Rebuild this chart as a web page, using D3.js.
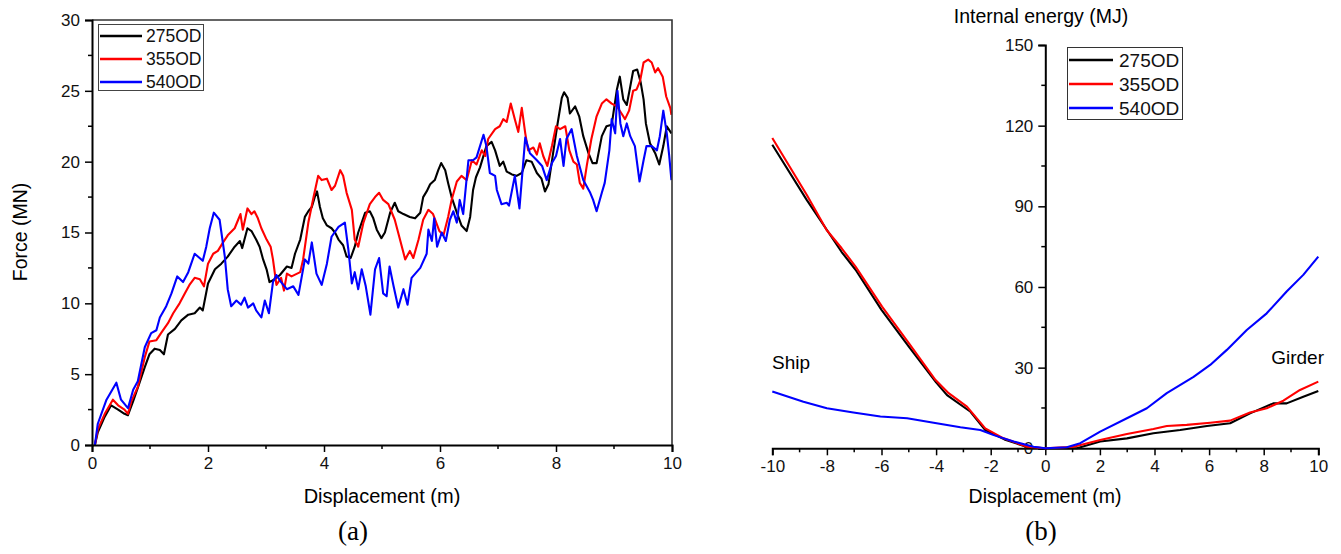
<!DOCTYPE html>
<html><head><meta charset="utf-8">
<script src="https://cdn.jsdelivr.net/npm/d3@7"></script>
<style>body{margin:0;background:#fff}svg{display:block}text{font-family:"Liberation Sans",Arial,sans-serif}</style>
</head><body>
<svg id="c" width="1341" height="554"></svg>
<script>
// ---------- DATA ----------
const seriesNames = ["275OD", "355OD", "540OD"];
const seriesColors = ["#000000", "#ff0000", "#0000ff"];

// (a) Force (MN) vs displacement (m)
const force275 = [[0.05,0],[0.10,0.9],[0.22,2.0],[0.33,2.8],[0.45,2.5],[0.56,2.2],[0.62,2.1],[0.71,3.1],[0.82,4.4],[0.91,5.5],[0.99,6.4],[1.08,6.8],[1.17,6.7],[1.24,6.4],[1.31,7.8],[1.43,8.2],[1.54,8.8],[1.66,9.2],[1.77,9.3],[1.86,9.7],[1.91,9.5],[2.00,11.4],[2.12,12.4],[2.23,12.8],[2.34,13.3],[2.46,14.0],[2.55,14.4],[2.59,13.9],[2.68,15.3],[2.75,15.1],[2.83,14.5],[2.89,14.0],[2.95,13.1],[3.01,12.4],[3.06,11.5],[3.15,11.7],[3.24,12.0],[3.36,12.6],[3.44,12.5],[3.50,13.5],[3.59,14.5],[3.67,16.1],[3.73,16.5],[3.79,16.8],[3.84,17.5],[3.88,17.9],[3.93,16.8],[3.98,16.0],[4.05,15.5],[4.13,15.3],[4.19,15.0],[4.25,14.5],[4.33,14.1],[4.39,13.3],[4.46,13.2],[4.53,14.0],[4.59,15.0],[4.65,15.7],[4.71,16.4],[4.79,16.5],[4.85,16.0],[4.91,15.2],[4.99,14.6],[5.05,15.0],[5.14,16.4],[5.22,17.1],[5.28,16.5],[5.37,16.3],[5.48,16.1],[5.57,16.0],[5.66,16.4],[5.71,17.5],[5.77,17.9],[5.83,18.4],[5.91,18.7],[5.97,19.4],[6.02,19.9],[6.09,19.4],[6.14,18.5],[6.20,17.5],[6.29,16.4],[6.37,15.5],[6.46,15.1],[6.52,16.1],[6.57,18.0],[6.62,18.9],[6.69,19.6],[6.80,21.1],[6.89,21.4],[6.95,20.8],[7.03,19.7],[7.09,20.0],[7.15,19.3],[7.24,19.1],[7.32,19.0],[7.41,19.2],[7.49,20.1],[7.58,20.0],[7.67,19.2],[7.75,18.8],[7.81,17.9],[7.87,18.4],[7.95,20.6],[8.02,22.5],[8.10,24.5],[8.14,24.9],[8.20,24.5],[8.24,23.4],[8.33,23.9],[8.40,23.2],[8.47,21.8],[8.56,20.6],[8.63,19.9],[8.70,19.9],[8.79,21.8],[8.87,22.5],[8.96,22.6],[9.05,25.1],[9.10,26.0],[9.16,24.4],[9.22,24.0],[9.28,25.3],[9.33,26.4],[9.40,26.5],[9.46,25.6],[9.51,24.4],[9.55,22.7],[9.62,21.3],[9.71,20.6],[9.78,19.8],[9.85,21.1],[9.91,22.5],[9.99,22.0]];
const force355 = [[0.05,0],[0.10,1.1],[0.22,2.2],[0.36,3.2],[0.45,2.8],[0.56,2.5],[0.62,2.2],[0.68,3.1],[0.79,4.1],[0.91,6.2],[0.99,7.3],[1.11,7.4],[1.19,7.9],[1.31,8.6],[1.40,9.3],[1.51,10.0],[1.60,10.7],[1.68,11.3],[1.77,11.8],[1.86,11.7],[1.93,11.2],[2.00,12.8],[2.09,13.5],[2.17,13.7],[2.26,14.3],[2.34,14.8],[2.46,15.3],[2.52,15.9],[2.56,16.3],[2.60,15.2],[2.68,16.7],[2.75,16.3],[2.80,16.5],[2.86,16.0],[2.92,15.3],[3.01,14.5],[3.08,14.0],[3.12,13.1],[3.18,11.3],[3.26,11.8],[3.31,10.9],[3.36,12.1],[3.44,11.9],[3.59,12.2],[3.64,13.1],[3.73,15.7],[3.82,17.5],[3.90,19.0],[3.96,18.7],[4.05,18.8],[4.13,18.0],[4.19,18.3],[4.28,19.4],[4.33,19.0],[4.39,17.8],[4.48,16.6],[4.53,14.5],[4.59,14.0],[4.68,15.7],[4.79,17.0],[4.88,17.5],[4.95,17.8],[5.02,17.3],[5.11,17.0],[5.22,15.9],[5.31,14.5],[5.40,13.1],[5.48,13.7],[5.54,13.2],[5.63,14.5],[5.71,15.9],[5.80,16.6],[5.88,16.3],[5.99,15.1],[6.06,14.8],[6.14,16.1],[6.20,17.3],[6.29,18.6],[6.37,19.0],[6.46,18.7],[6.55,20.1],[6.63,19.8],[6.72,20.8],[6.78,20.4],[6.83,21.6],[6.95,22.3],[7.03,22.5],[7.09,23.0],[7.15,22.8],[7.22,24.1],[7.29,23.0],[7.35,22.1],[7.41,23.8],[7.47,22.0],[7.52,20.8],[7.61,21.0],[7.67,20.5],[7.72,21.3],[7.78,20.4],[7.85,19.7],[7.93,21.1],[8.00,22.5],[8.07,22.3],[8.16,22.5],[8.23,20.8],[8.30,20.0],[8.36,19.8],[8.41,18.5],[8.47,18.1],[8.53,19.7],[8.61,21.6],[8.70,23.2],[8.79,24.1],[8.87,24.4],[8.96,24.1],[9.05,23.9],[9.13,23.4],[9.19,23.0],[9.26,23.6],[9.33,25.0],[9.39,25.1],[9.45,25.7],[9.51,27.0],[9.59,27.2],[9.65,27.0],[9.71,26.3],[9.76,26.6],[9.84,26.0],[9.90,24.6],[9.97,23.8],[9.99,23.3]];
const force540 = [[0.05,0],[0.10,1.5],[0.25,3.2],[0.42,4.4],[0.50,3.2],[0.62,2.6],[0.71,3.9],[0.79,4.5],[0.91,6.9],[1.02,7.9],[1.11,8.1],[1.17,9.0],[1.28,9.8],[1.37,10.7],[1.47,11.9],[1.57,11.5],[1.66,12.2],[1.77,13.5],[1.91,13.0],[1.97,14.0],[2.03,15.3],[2.10,16.4],[2.20,15.9],[2.29,13.3],[2.34,11.0],[2.40,9.8],[2.49,10.2],[2.57,9.9],[2.63,10.4],[2.69,9.7],[2.78,10.0],[2.83,9.5],[2.92,9.0],[2.98,10.2],[3.05,9.3],[3.12,11.5],[3.18,12.0],[3.26,11.5],[3.36,11.0],[3.47,11.2],[3.56,10.6],[3.67,13.1],[3.73,12.8],[3.79,14.3],[3.87,12.1],[3.96,11.3],[4.05,12.8],[4.13,14.7],[4.25,15.4],[4.36,15.7],[4.42,13.8],[4.48,11.4],[4.53,12.2],[4.59,11.0],[4.65,12.4],[4.72,11.2],[4.80,9.2],[4.88,12.4],[4.95,13.2],[5.02,10.7],[5.08,10.5],[5.13,12.6],[5.20,11.2],[5.28,9.7],[5.37,11.0],[5.44,9.9],[5.51,11.8],[5.66,12.5],[5.77,13.5],[5.80,15.2],[5.86,14.4],[5.90,16.0],[5.95,14.0],[6.03,15.0],[6.10,14.4],[6.17,15.9],[6.23,16.5],[6.29,15.7],[6.34,17.3],[6.40,16.3],[6.49,20.1],[6.57,20.1],[6.63,20.3],[6.75,21.9],[6.80,21.1],[6.86,19.2],[6.95,19.0],[6.98,18.0],[7.06,17.0],[7.15,17.1],[7.19,16.9],[7.29,19.0],[7.37,16.7],[7.47,21.7],[7.55,20.6],[7.67,20.1],[7.76,19.7],[7.84,18.7],[7.93,19.9],[8.00,20.4],[8.07,21.6],[8.13,19.7],[8.18,21.6],[8.27,22.3],[8.36,20.4],[8.47,18.7],[8.59,17.8],[8.64,17.3],[8.70,16.5],[8.79,17.8],[8.84,18.5],[8.92,20.8],[8.96,23.0],[9.02,22.0],[9.06,25.0],[9.11,22.7],[9.16,21.8],[9.22,22.7],[9.28,21.8],[9.36,21.1],[9.44,18.6],[9.51,20.1],[9.56,21.1],[9.65,21.1],[9.74,20.8],[9.79,21.8],[9.85,23.6],[9.91,22.0],[9.95,20.5],[9.99,18.7]];

// (b) Internal energy (MJ) vs displacement (m); negative side = Ship, positive side = Girder
const energy275 = [[-10,112.9],[-8.74,92.4],[-7.46,73.0],[-6.95,66.4],[-6.0,51.5],[-5.0,37.8],[-4.0,24.5],[-3.6,19.8],[-2.74,13.6],[-2.2,6.8],[-1.5,3.3],[-0.67,0.5],[0,0],[1.16,0],[2.01,2.5],[2.99,3.7],[3.96,5.6],[4.94,6.8],[5.92,8.3],[6.77,9.3],[7.5,13.0],[8.35,16.7],[8.84,16.7],[9.45,19.2],[10,21.3]];
const energy355 = [[-10,115.4],[-8.74,94.3],[-8.01,81.2],[-7.46,74.4],[-6.95,67.6],[-5.98,52.7],[-5.0,39.1],[-4.02,25.4],[-3.54,20.5],[-2.87,15.5],[-2.2,7.4],[-1.53,3.7],[-0.67,0.6],[0,0],[1.04,0.6],[2.01,3.1],[2.99,5.3],[3.96,7.2],[4.45,8.3],[5.18,8.7],[6.04,9.5],[6.77,10.3],[7.5,13.3],[8.11,14.9],[8.72,17.7],[9.33,21.7],[10,24.8]];
const energy540 = [[-10,21.1],[-8.86,17.3],[-8.0,14.9],[-7.03,13.3],[-6.04,11.8],[-5.06,11.2],[-4.09,9.5],[-3.11,7.8],[-2.38,6.8],[-1.89,4.9],[-1.16,2.5],[-0.43,0.6],[0,0],[0.79,0.4],[1.28,1.9],[2.01,6.2],[2.99,11.2],[3.72,14.9],[4.45,20.5],[5.43,26.6],[6.04,31.0],[6.65,36.6],[7.38,44.0],[8.11,50.2],[8.84,58.3],[9.45,64.5],[10,71.3]];

const forceTicksX = [0,2,4,6,8,10];
const forceTicksY = [0,5,10,15,20,25,30];
const energyTicksX = [-10,-8,-6,-4,-2,0,2,4,6,8,10];
const energyTicksY = [0,30,60,90,120,150];

// ---------- DRAW ----------
const svg = d3.select("#c");
const tickFont = "17px";
const fmt = d => String(d);   // plain hyphen for negatives, like the original

// ---- panel (a) ----
const ax = d3.scaleLinear().domain([0,10]).range([92,672]);
const ay = d3.scaleLinear().domain([0,30]).range([445,20]);
const A = svg.append("g");
A.append("clipPath").attr("id","clipA").append("rect")
  .attr("x",ax(0)).attr("y",ay(30)).attr("width",ax(10)-ax(0)).attr("height",ay(0)-ay(30));
const lineA = d3.line().x(d=>ax(d[0])).y(d=>ay(d[1]));
[force275, force355, force540].forEach((s,i)=>{
  A.append("path").attr("d",lineA(s)).attr("fill","none").attr("stroke",seriesColors[i])
   .attr("stroke-width",2.1).attr("stroke-linejoin","round").attr("clip-path","url(#clipA)");
});
A.append("path").attr("d",`M${ax(0)},${ay(30)}H${ax(10)}V${ay(0)}`).attr("fill","none").attr("stroke","#333").attr("stroke-width",1.6);
const axMinor = d3.range(1,10,2);
const ayMinor = d3.range(2.5,30,5);
const gx = A.append("g").attr("transform",`translate(0,${ay(0)})`)
  .call(d3.axisBottom(ax).tickValues(forceTicksX).tickSize(7).tickPadding(5).tickFormat(fmt));
gx.append("g").selectAll("line").data(axMinor).join("line")
  .attr("x1",d=>ax(d)).attr("x2",d=>ax(d)).attr("y1",0).attr("y2",4).attr("stroke","#000").attr("stroke-width",1.5);
const gy = A.append("g").attr("transform",`translate(${ax(0)},0)`)
  .call(d3.axisLeft(ay).tickValues(forceTicksY).tickSize(7).tickPadding(5).tickFormat(fmt));
gy.append("g").selectAll("line").data(ayMinor).join("line")
  .attr("y1",d=>ay(d)).attr("y2",d=>ay(d)).attr("x1",0).attr("x2",-4).attr("stroke","#000").attr("stroke-width",1.5);
[gx,gy].forEach(g=>{
  g.select(".domain").attr("stroke","#000").attr("stroke-width",2);
  g.selectAll(".tick line").attr("stroke","#000").attr("stroke-width",1.5);
  g.selectAll(".tick text").attr("fill","#111").style("font-size",tickFont).style("font-family","Liberation Sans, Arial, sans-serif");
});
A.append("text").attr("x",382).attr("y",503).attr("text-anchor","middle").style("font-size","20px").text("Displacement (m)");
A.append("text").attr("transform","translate(27,232) rotate(-90)").attr("text-anchor","middle").style("font-size","19.5px").text("Force (MN)");
A.append("text").attr("x",353).attr("y",540).attr("text-anchor","middle")
  .style("font-family","Liberation Serif, Times New Roman, serif").style("font-size","27px").text("(a)");
const LA = A.append("g");
LA.append("rect").attr("x",98.5).attr("y",24.5).attr("width",105).attr("height",66).attr("fill","#fff").attr("stroke","#444").attr("stroke-width",1);
seriesNames.forEach((n,i)=>{
  const yy = 36 + i*23;
  LA.append("line").attr("x1",100).attr("x2",142).attr("y1",yy).attr("y2",yy).attr("stroke",seriesColors[i]).attr("stroke-width",2.5);
  LA.append("text").attr("x",146).attr("y",yy+6).style("font-size","17.5px").attr("fill","#111").text(n);
});

// ---- panel (b) ----
const bx = d3.scaleLinear().domain([-10,10]).range([772.3,1318.3]);
const by = d3.scaleLinear().domain([0,150]).range([448.3,45]);
const B = svg.append("g");
const lineB = d3.line().x(d=>bx(d[0])).y(d=>by(d[1]));
const gbx = B.append("g").attr("transform",`translate(0,${by(0)})`)
  .call(d3.axisBottom(bx).tickValues(energyTicksX).tickSize(7).tickPadding(5).tickFormat(fmt));
gbx.append("g").selectAll("line").data(d3.range(-9,10,2)).join("line")
  .attr("x1",d=>bx(d)).attr("x2",d=>bx(d)).attr("y1",0).attr("y2",4).attr("stroke","#000").attr("stroke-width",1.5);
const gby = B.append("g").attr("transform",`translate(${bx(0)},0)`)
  .call(d3.axisLeft(by).tickValues(energyTicksY).tickSize(7).tickPadding(5).tickFormat(fmt));
gby.append("g").selectAll("line").data(d3.range(15,150,30)).join("line")
  .attr("y1",d=>by(d)).attr("y2",d=>by(d)).attr("x1",0).attr("x2",-4).attr("stroke","#000").attr("stroke-width",1.5);
[gbx,gby].forEach(g=>{
  g.select(".domain").attr("stroke","#000").attr("stroke-width",2);
  g.selectAll(".tick line").attr("stroke","#000").attr("stroke-width",1.5);
  g.selectAll(".tick text").attr("fill","#111").style("font-size",tickFont).style("font-family","Liberation Sans, Arial, sans-serif");
});
[energy275, energy355, energy540].forEach((s,i)=>{
  B.append("path").attr("d",lineB(s)).attr("fill","none").attr("stroke",seriesColors[i])
   .attr("stroke-width",2.1).attr("stroke-linejoin","round");
});
B.append("text").attr("x",1041).attr("y",23).attr("text-anchor","middle").style("font-size","19.5px").text("Internal energy (MJ)");
B.append("text").attr("x",1045).attr("y",503).attr("text-anchor","middle").style("font-size","19.5px").text("Displacement (m)");
B.append("text").attr("x",772).attr("y",369).style("font-size","19px").text("Ship");
B.append("text").attr("x",1324).attr("y",364).attr("text-anchor","end").style("font-size","19px").text("Girder");
B.append("text").attr("x",1041).attr("y",540).attr("text-anchor","middle")
  .style("font-family","Liberation Serif, Times New Roman, serif").style("font-size","27px").text("(b)");
const LB = B.append("g");
LB.append("rect").attr("x",1067.5).attr("y",47.5).attr("width",115).attr("height",72).attr("fill","#fff").attr("stroke","#333").attr("stroke-width",1);
seriesNames.forEach((n,i)=>{
  const yy = 60 + i*24;
  LB.append("line").attr("x1",1069).attr("x2",1113).attr("y1",yy).attr("y2",yy).attr("stroke",seriesColors[i]).attr("stroke-width",2.5);
  LB.append("text").attr("x",1119).attr("y",yy+7).style("font-size","19px").attr("fill","#111").text(n);
});
</script>
</body></html>
